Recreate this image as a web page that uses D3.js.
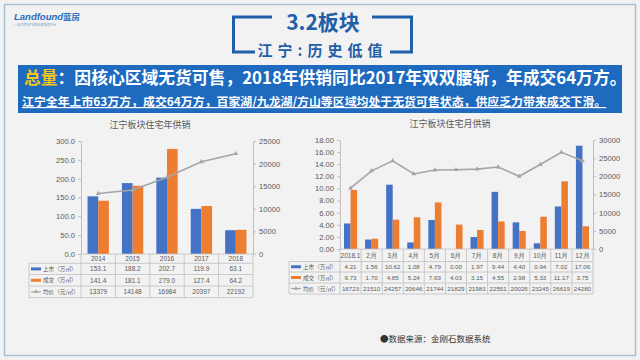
<!DOCTYPE html>
<html><head><meta charset="utf-8">
<script src="https://cdn.jsdelivr.net/npm/d3@7"></script>
<style>
html,body{margin:0;padding:0;background:#f2f2f2;}
svg{display:block;font-family:"Noto Sans CJK SC","Noto Sans",sans-serif;}
</style></head><body>
<svg id="c" width="640" height="360"></svg>
<script>
// ---- data ----
const years = ["2014","2015","2016","2017","2018"];
const yearSupply = [153.1,188.2,202.7,119.9,63.1];
const yearDeal = [141.4,181.1,279.0,127.4,64.2];
const yearPrice = [13379,14148,16984,20397,22192];
const yearLeftTicks = [0,50,100,150,200,250,300];
const yearRightTicks = [0,5000,10000,15000,20000,25000];

const months = ["2018.1","2月","3月","4月","5月","6月","7月","8月","9月","10月","11月","12月"];
const monthSupply = [4.21,1.56,10.62,1.08,4.79,0.00,1.97,9.44,4.40,0.94,7.02,17.06];
const monthDeal = [9.73,1.70,4.85,5.24,7.69,4.03,3.15,4.55,2.98,5.33,11.17,3.75];
const monthPrice = [16723,21510,24257,20646,21744,21829,21983,22551,20026,23245,26619,24280];
const monthLeftTicks = [0,2,4,6,8,10,12,14,16,18];
const monthRightTicks = [0,5000,10000,15000,20000,25000,30000];

const seriesNames = ["上市（万㎡）","成交（万㎡）","均价（元/㎡）"];
const C = {blue:"#4472c4", orange:"#ed7d31", gray:"#a5a5a5", axis:"#bfbfbf", text:"#595959"};

const svg = d3.select("#c");

// frame
svg.append("rect").attr("x",4.5).attr("y",4.5).attr("width",631).attr("height",351)
  .attr("fill","#f2f2f2").attr("stroke","#a6c2d4").attr("stroke-width",1.5);

// logo
svg.append("text").attr("x",14).attr("y",20).attr("font-size",9.5).attr("font-weight","bold")
  .attr("font-style","italic").attr("fill","#2a6ab8").attr("font-family","Liberation Sans, sans-serif")
  .text("Landfound").append("tspan").attr("font-family","Noto Sans CJK SC").attr("font-style","normal").attr("font-size",8.5).text("蓝房");
svg.append("text").attr("x",14).attr("y",26).attr("font-size",3).attr("fill","#7a9cc6").text("一站式房地产营销专家服务平台");

// title bracket
const tb = "#1f5fa8";
const br = svg.append("g").attr("stroke",tb).attr("stroke-width",3).attr("fill","none");
br.append("path").attr("d","M272,17H233.5V52H255");
br.append("path").attr("d","M372,17H411.5V52H390");
svg.append("text").attr("x",323).attr("y",30).attr("text-anchor","middle").attr("font-size",21)
  .attr("font-weight","bold").attr("fill",tb).text("3.2板块");
svg.append("text").attr("x",322.5).attr("y",56).attr("text-anchor","middle").attr("font-size",15)
  .attr("font-weight","bold").attr("fill",tb).attr("letter-spacing",5).text("江宁:历史低值");

// banner
svg.append("rect").attr("x",18).attr("y",65).attr("width",604).attr("height",48).attr("fill","#1d6abf");
const l1 = svg.append("text").attr("x",24).attr("y",84).attr("font-size",16.8).attr("font-weight","bold").attr("fill","#fff");
l1.append("tspan").attr("fill","#f6c61b").text("总量");
l1.append("tspan").text("：因核心区域无货可售，2018年供销同比2017年双双腰斩，年成交64万方。");
svg.append("text").attr("x",22).attr("y",106).attr("font-size",11.9).attr("font-weight","bold").attr("fill","#fff")
  .attr("text-decoration","underline")
  .text("江宁全年上市63万方，成交64万方，百家湖/九龙湖/方山等区域均处于无货可售状态，供应乏力带来成交下滑。");

// chart builder
function chart(o){
  const g = svg.append("g");
  const x = d3.scaleBand().domain(o.cats).range([o.x0,o.x1]).paddingInner(o.pad).paddingOuter(o.pad/2);
  const yl = d3.scaleLinear().domain([0,o.lmax]).range([o.yb,o.yt]);
  const yr = d3.scaleLinear().domain([0,o.rmax]).range([o.yb,o.yt]);
  const bw = x.bandwidth()/2;
  g.append("text").attr("x",o.tx).attr("y",o.ty).attr("text-anchor","middle").attr("font-size",9)
    .attr("fill",C.text).text(o.title);
  // axes
  const axL = g.append("g").attr("transform",`translate(${o.x0},0)`)
    .call(d3.axisLeft(yl).tickValues(o.lticks).tickFormat(d3.format(o.lfmt)).tickSize(3).tickSizeOuter(0));
  const axR = g.append("g").attr("transform",`translate(${o.x1},0)`)
    .call(d3.axisRight(yr).tickValues(o.rticks).tickFormat(d3.format("d")).tickSize(3).tickSizeOuter(0));
  [axL,axR].forEach(a=>{
    a.selectAll("path,line").attr("stroke",C.axis);
    a.selectAll("text").attr("fill",C.text).attr("font-size",7.6).attr("font-family","Liberation Sans, sans-serif");
  });
  // bars
  g.selectAll(".bs").data(o.cats).join("rect").attr("x",d=>x(d)).attr("width",bw)
    .attr("y",(d,i)=>yl(o.s1[i])).attr("height",(d,i)=>o.yb-yl(o.s1[i])).attr("fill",C.blue);
  g.selectAll(".bd").data(o.cats).join("rect").attr("x",d=>x(d)+bw).attr("width",bw)
    .attr("y",(d,i)=>yl(o.s2[i])).attr("height",(d,i)=>o.yb-yl(o.s2[i])).attr("fill",C.orange);
  // line
  const line = d3.line().x((d,i)=>x(o.cats[i])+x.bandwidth()/2).y(d=>yr(d));
  g.append("path").datum(o.s3).attr("d",line).attr("fill","none").attr("stroke",C.gray).attr("stroke-width",1.6);
  g.selectAll(".mk").data(o.s3).join("path")
    .attr("transform",(d,i)=>`translate(${x(o.cats[i])+x.bandwidth()/2},${yr(d)})`)
    .attr("d",d3.symbol(d3.symbolTriangle,10)).attr("fill",C.gray);
  // table
  const t = g.append("g").attr("font-family","Liberation Sans, sans-serif");
  const rows = o.rows;
  const step = x.step();
  const colX = o.cats.map((d,i)=>o.x0+i*step);
  colX.push(o.x1);
  const tl = t.append("g").attr("stroke",C.axis).attr("stroke-width",0.8).attr("fill","none");
  tl.append("line").attr("x1",o.x0).attr("x2",o.x1).attr("y1",rows[0]).attr("y2",rows[0]);
  rows.slice(1).forEach(r=>tl.append("line").attr("x1",o.lx).attr("x2",o.x1).attr("y1",r).attr("y2",r));
  colX.forEach(cx=>tl.append("line").attr("x1",cx).attr("x2",cx).attr("y1",rows[0]).attr("y2",rows[4]));
  tl.append("line").attr("x1",o.lx).attr("x2",o.lx).attr("y1",rows[1]).attr("y2",rows[4]);
  t.selectAll(".hd").data(o.cats).join("text").attr("x",d=>x(d)+x.bandwidth()/2)
    .attr("y",(rows[0]+rows[1])/2+2.3).attr("text-anchor","middle").attr("font-size",6.5).attr("fill",C.text).text(d=>d);
  const vals = [o.s1.map(v=>d3.format(o.vfmt)(v)), o.s2.map(v=>d3.format(o.vfmt)(v)), o.s3.map(v=>String(v))];
  vals.forEach((arr,ri)=>{
    const cy = (rows[ri+1]+rows[ri+2])/2;
    t.selectAll(".v"+ri).data(arr).join("text").attr("x",(d,i)=>x(o.cats[i])+x.bandwidth()/2)
      .attr("y",cy+2.3).attr("text-anchor","middle").attr("font-size",o.vfs).attr("fill",C.text).text(d=>d);
    const mx = o.lx+2;
    if(ri<2) t.append("rect").attr("x",mx).attr("y",cy-1.5).attr("width",10).attr("height",3).attr("fill",ri===0?C.blue:C.orange);
    else { t.append("line").attr("x1",mx).attr("x2",mx+10).attr("y1",cy).attr("y2",cy).attr("stroke",C.gray).attr("stroke-width",1.2);
      t.append("path").attr("transform",`translate(${mx+5},${cy})`).attr("d",d3.symbol(d3.symbolTriangle,8)).attr("fill",C.gray); }
    t.append("text").attr("x",mx+12).attr("y",cy+2).attr("font-size",5.6).attr("fill",C.text)
      .attr("font-family","Noto Sans CJK SC").text(seriesNames[ri]);
  });
}

chart({cats:years,s1:yearSupply,s2:yearDeal,s3:yearPrice,x0:81,x1:253,yt:141,yb:254,lmax:300,rmax:25000,
  lticks:yearLeftTicks,rticks:yearRightTicks,lfmt:".1f",vfmt:".1f",vfs:6.5,pad:0.38,title:"江宁板块住宅年供销",tx:150,ty:128,
  rows:[254,263.3,274.5,286,297.7],lx:29});
chart({cats:months,s1:monthSupply,s2:monthDeal,s3:monthPrice,x0:340,x1:593,yt:140,yb:249,lmax:18,rmax:30000,
  lticks:monthLeftTicks,rticks:monthRightTicks,lfmt:".2f",vfmt:".2f",vfs:6.2,pad:0.38,title:"江宁板块住宅月供销",tx:450,ty:127,
  rows:[249,261.5,272,283,294],lx:289});

svg.append("text").attr("x",380).attr("y",342).attr("font-size",8.5).attr("fill","#333").text("●数据来源：金刚石数据系统");
</script>
</body></html>
